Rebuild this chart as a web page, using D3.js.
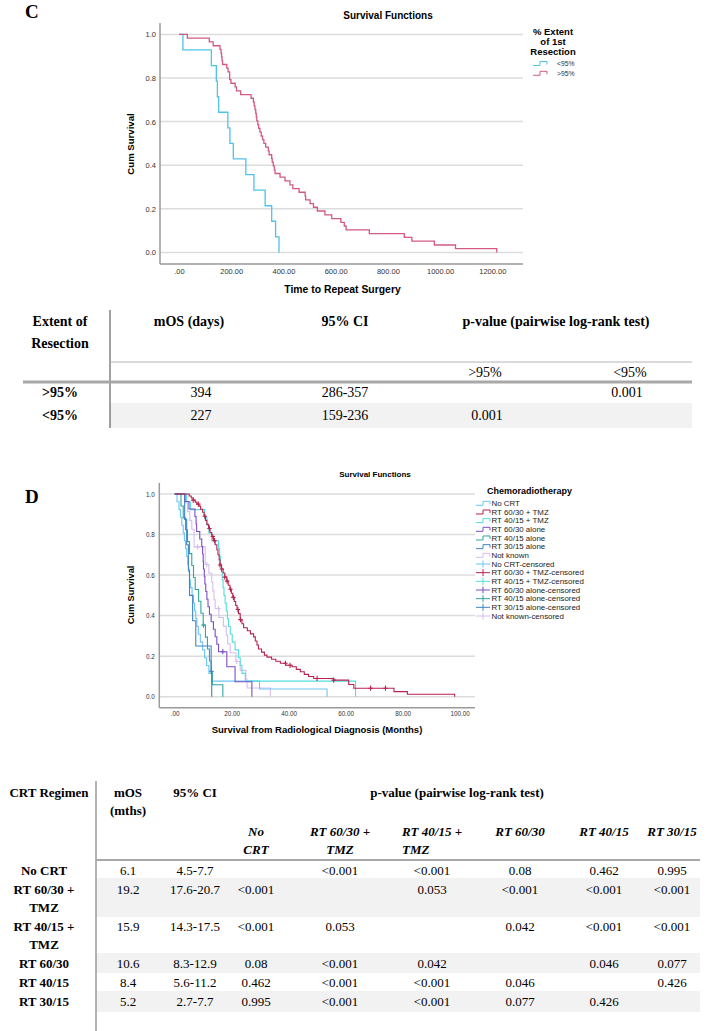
<!DOCTYPE html>
<html><head><meta charset="utf-8">
<script src="https://cdn.jsdelivr.net/npm/d3@7"></script>
<style>body{margin:0;background:#fff}</style>
</head><body><svg id="fig" width="708" height="1031"></svg>
<script>
// ================= DATA =================
// Panel C: Kaplan-Meier, time to repeat surgery (days)
const cTicksY = [0, 0.2, 0.4, 0.6, 0.8, 1.0];
const cTicksX = [0, 200, 400, 600, 800, 1000, 1200];
const cTickLabelsX = [".00", "200.00", "400.00", "600.00", "800.00", "1000.00", "1200.00"];
const cGroups = ["<95%", ">95%"];
const cTimesLt95 = [0, 15, 124, 143, 147, 152, 187, 195, 208, 256, 287, 330, 355, 370, 383];
const cSurvLt95  = [1, 0.929, 0.857, 0.786, 0.714, 0.643, 0.571, 0.5, 0.429, 0.357, 0.286, 0.214, 0.143, 0.071, 0];
const cTimesGt95 = [0,32,116,131,157,161,163,165,167,183,188,194,199,215,220,236,276,285,288,291,294,296,298,302,305,310,315,320,325,332,342,345,355,357,361,365,368,387,406,425,436,460,483,485,502,515,530,559,585,620,633,640,729,863,892,978,1059,1217];
const cSurvGt95  = [1,0.983,0.966,0.948,0.931,0.914,0.897,0.879,0.862,0.845,0.828,0.793,0.776,0.759,0.741,0.724,0.707,0.690,0.672,0.655,0.638,0.621,0.603,0.586,0.569,0.552,0.534,0.517,0.500,0.483,0.466,0.448,0.431,0.414,0.397,0.379,0.362,0.345,0.328,0.310,0.293,0.276,0.259,0.241,0.224,0.207,0.190,0.172,0.155,0.138,0.121,0.103,0.086,0.069,0.052,0.034,0.017,0];

// Panel D: Kaplan-Meier, survival from radiological diagnosis (months)
const dTicksY = [0, 0.2, 0.4, 0.6, 0.8, 1.0];
const dTicksX = [0, 20, 40, 60, 80, 100];
const dTickLabelsX = [".00", "20.00", "40.00", "60.00", "80.00", "100.00"];
const dGroups = ["No CRT", "RT 60/30 + TMZ", "RT 40/15 + TMZ", "RT 60/30 alone", "RT 40/15 alone", "RT 30/15 alone", "Not known"];
const dTimesNoCRT = [0,0.8,1.5,2,2.5,3,3.4,3.8,4.2,4.6,4.9,5.2,5.5,6.1,6.6,7,7.4,7.8,8.3,9,9.8,10.5,11.2,12,13,29.8,53.5];
const dSurvNoCRT  = [1,0.962,0.923,0.885,0.846,0.808,0.769,0.731,0.692,0.654,0.615,0.577,0.538,0.5,0.462,0.423,0.385,0.346,0.308,0.269,0.231,0.192,0.154,0.115,0.077,0.038,0];
const dTimesRT6030TMZ = [0,5.1,5.8,6.5,7.2,7.8,8.5,9.1,9.8,10.3,10.8,11.3,11.9,12.4,13.0,13.6,14.2,14.8,15.2,15.6,15.9,16.4,17.0,17.6,18.3,18.8,19.4,19.9,20.4,20.9,21.4,21.9,22.4,23.0,23.6,24.2,25.5,26.6,27.7,28.3,28.9,29.4,30.5,31.5,32.4,34.0,35.5,37.1,39.0,41.2,42.7,44.1,45.5,47.0,48.8,55.8,61.1,62.9,77.0,81.7,98.3];
const dSurvRT6030TMZ  = [1,0.99,0.98,0.97,0.96,0.95,0.94,0.925,0.91,0.89,0.87,0.85,0.83,0.81,0.79,0.77,0.75,0.725,0.70,0.675,0.65,0.63,0.61,0.59,0.57,0.55,0.53,0.51,0.49,0.47,0.45,0.43,0.41,0.38,0.36,0.34,0.325,0.31,0.295,0.275,0.255,0.235,0.22,0.205,0.195,0.185,0.175,0.165,0.155,0.148,0.135,0.123,0.11,0.10,0.09,0.082,0.06,0.042,0.025,0.012,0];
const dTimesRT4015TMZ = [0,4.2,5.5,10.5,11.3,12.0,13.0,15.4,15.8,16.1,16.4,16.7,17.0,17.3,17.7,18.1,18.5,18.9,19.5,20.2,21.2,22.4,23.0,23.6,24.8,63.5];
const dSurvRT4015TMZ  = [1,0.962,0.923,0.885,0.846,0.808,0.769,0.731,0.692,0.654,0.615,0.577,0.538,0.5,0.462,0.423,0.385,0.346,0.308,0.269,0.231,0.192,0.154,0.115,0.077,0];
const dTimesRT6030 = [0,3.6,5.0,7.1,7.5,7.7,8.8,9.5,9.8,10.0,10.1,10.4,10.6,10.9,11.3,11.7,12.2,12.8,13.6,14.2,14.8,15.4,18.3,21.2,27.1];
const dSurvRT6030  = [1,0.963,0.926,0.889,0.852,0.815,0.778,0.741,0.704,0.667,0.63,0.593,0.556,0.519,0.481,0.444,0.407,0.37,0.333,0.296,0.259,0.222,0.148,0.074,0];
const dTimesRT4015 = [0,2.2,3.0,3.8,4.5,5.2,6.0,6.6,7.2,8.4,9.2,10.0,10.8,11.5,12.2,12.8,13.2,16.9];
const dSurvRT4015  = [1,0.941,0.882,0.824,0.765,0.706,0.647,0.588,0.529,0.471,0.412,0.353,0.294,0.235,0.176,0.118,0.059,0];
const dTimesRT3015 = [0,3.5,4.2,4.8,5.2,6.3,7.4,12.8,13.0];
const dSurvRT3015  = [1,0.875,0.75,0.625,0.5,0.375,0.25,0.125,0];
const dTimesNotKnown = [0,3.6,4.5,5.3,6.0,6.8,10.7,12.0,13.0,13.4,13.8,14.2,15.5,17.1,18.1,18.6,19.5,21.5,23.0,25.0,25.4,33.6];
const dSurvNotKnown  = [1,0.957,0.913,0.870,0.826,0.739,0.652,0.609,0.565,0.522,0.478,0.435,0.391,0.348,0.304,0.261,0.217,0.174,0.130,0.087,0.043,0];
// censored observations (months)
const dCensorNoCRT = [];
const dCensorRT6030TMZ = [6.5,8.3,10.6,12.2,13.4,14.0,15.9,16.5,17.6,18.4,19.6,20.6,22.2,23.1,38.9,40.5,50.0,55.8,68.8,74.0];
const dCensorRT4015TMZ = [];
const dCensorRT6030 = [16.9];
const dCensorRT4015 = [10.1];
const dCensorRT3015 = [12.9];
const dCensorNotKnown = [8.0,11.3,15.4,21.8];

// Table C
const tCHeader = ["mOS (days)", "95% CI", "p-value (pairwise log-rank test)"];
const tCFirstHeader = ["Extent of", "Resection"];
const tCSubHeader = [">95%", "<95%"];
const tCRows = [">95%", "<95%"];
const tCmOS = ["394", "227"];
const tCCI = ["286-357", "159-236"];
const tCP = [["", "0.001"], ["0.001", ""]];

// Table D
const tDFirstHeader = "CRT Regimen";
const tDmOSHeader = ["mOS", "(mths)"];
const tDCIHeader = "95% CI";
const tDPHeader = "p-value (pairwise log-rank test)";
const tDSubHeader = [["No", "CRT"], ["RT 60/30 +", "TMZ"], ["RT 40/15 +", "TMZ"], ["RT 60/30"], ["RT 40/15"], ["RT 30/15"]];
const tDRows = [["No CRT"], ["RT 60/30 +", "TMZ"], ["RT 40/15 +", "TMZ"], ["RT 60/30"], ["RT 40/15"], ["RT 30/15"]];
const tDmOS = ["6.1", "19.2", "15.9", "10.6", "8.4", "5.2"];
const tDCI = ["4.5-7.7", "17.6-20.7", "14.3-17.5", "8.3-12.9", "5.6-11.2", "2.7-7.7"];
const tDP = [
  ["", "<0.001", "<0.001", "0.08", "0.462", "0.995"],
  ["<0.001", "", "0.053", "<0.001", "<0.001", "<0.001"],
  ["<0.001", "0.053", "", "0.042", "<0.001", "<0.001"],
  ["0.08", "<0.001", "0.042", "", "0.046", "0.077"],
  ["0.462", "<0.001", "<0.001", "0.046", "", "0.426"],
  ["0.995", "<0.001", "<0.001", "0.077", "0.426", ""]
];

// ================= DRAW =================
const svg = d3.select("#fig");
svg.append("rect").attr("width", 708).attr("height", 1031).attr("fill", "#fff");
const SANS = "'Liberation Sans', Arial, sans-serif";
const SERIF = "'Liberation Serif', 'Times New Roman', serif";

function kmPath(g, times, surv, x, y, color, w) {
  const pts = times.map((t, i) => [t, surv[i]]);
  g.append("path")
    .attr("d", d3.line().x(d => x(d[0])).y(d => y(d[1])).curve(d3.curveStepAfter)(pts))
    .attr("fill", "none").attr("stroke", color).attr("stroke-width", w);
}
function survAt(times, surv, t) {
  let s = surv[0];
  for (let i = 0; i < times.length; i++) if (times[i] <= t) s = surv[i];
  return s;
}
function censorMarks(g, times, surv, cens, x, y, color) {
  cens.forEach(t => {
    const cx = x(t), cy = y(survAt(times, surv, t));
    g.append("path").attr("d", `M${cx},${cy - 2.6}V${cy + 2.6}M${cx - 2.2},${cy}H${cx + 2.2}`)
      .attr("stroke", color).attr("stroke-width", 1.1).attr("fill", "none");
  });
}
function stepSymbol(g, x0, yc, color) {
  g.append("path").attr("d", `M${x0},${yc + 2}H${x0 + 7}V${yc - 2}H${x0 + 14}V${yc + 1}`)
    .attr("fill", "none").attr("stroke", color).attr("stroke-width", 1);
}
function crossSymbol(g, x0, yc, color) {
  g.append("path").attr("d", `M${x0},${yc}H${x0 + 14}M${x0 + 7},${yc - 3.5}V${yc + 3.5}`)
    .attr("fill", "none").attr("stroke", color).attr("stroke-width", 1);
}

// ---------- Panel C ----------
svg.append("text").attr("x", 25).attr("y", 18).text("C")
  .attr("font-family", SERIF).attr("font-weight", "bold").attr("font-size", 19);

const xC = d3.scaleLinear().domain([0, 1200]).range([179, 492.3]);
const yC = d3.scaleLinear().domain([0, 1]).range([252.4, 34.4]);
const gC = svg.append("g");
gC.selectAll("line.grid").data(cTicksY).join("line")
  .attr("x1", 160).attr("x2", 523).attr("y1", d => yC(d)).attr("y2", d => yC(d))
  .attr("stroke", "#dcdcdc").attr("stroke-width", 1.5);
gC.append("g").attr("transform", "translate(160,0)")
  .call(d3.axisLeft(yC).tickValues(cTicksY).tickFormat(d3.format(".1f")).tickSize(0).tickPadding(4))
  .call(g => g.select(".domain").remove())
  .selectAll("text").attr("font-family", SANS).attr("font-size", 7.5).attr("fill", "#333");
gC.append("g").attr("transform", "translate(0,264)")
  .call(d3.axisBottom(xC).tickValues(cTicksX).tickFormat((d, i) => cTickLabelsX[i]).tickSize(0).tickPadding(5))
  .call(g => g.select(".domain").remove())
  .selectAll("text").attr("font-family", SANS).attr("font-size", 7.5).attr("fill", "#333");
gC.append("line").attr("x1", 160).attr("x2", 160).attr("y1", 23).attr("y2", 264).attr("stroke", "#9a9a9a").attr("stroke-width", 1.5);
gC.append("line").attr("x1", 160).attr("x2", 523).attr("y1", 264).attr("y2", 264).attr("stroke", "#9a9a9a").attr("stroke-width", 1.5);

const cColors = ["#4fc3ea", "#d25a84"];
kmPath(gC, cTimesLt95, cSurvLt95, xC, yC, cColors[0], 1.3);
kmPath(gC, cTimesGt95, cSurvGt95, xC, yC, cColors[1], 1.3);

gC.append("text").attr("x", 388).attr("y", 15).attr("dy", "0.35em").attr("text-anchor", "middle")
  .attr("font-family", SANS).attr("font-weight", "bold").attr("font-size", 10).text("Survival Functions");
gC.append("text").attr("x", 342.5).attr("y", 289).attr("dy", "0.35em").attr("text-anchor", "middle")
  .attr("font-family", SANS).attr("font-weight", "bold").attr("font-size", 10.4).text("Time to Repeat Surgery");
gC.append("text").attr("transform", "translate(131,144) rotate(-90)").attr("dy", "0.35em").attr("text-anchor", "middle")
  .attr("font-family", SANS).attr("font-weight", "bold").attr("font-size", 9.6).text("Cum Survival");
["% Extent", "of 1st", "Resection"].forEach((t, i) => {
  gC.append("text").attr("x", 553).attr("y", 32 + i * 9.6).attr("dy", "0.35em").attr("text-anchor", "middle")
    .attr("font-family", SANS).attr("font-weight", "bold").attr("font-size", 9.5).text(t);
});
cGroups.forEach((gname, i) => {
  const yc = 63.5 + i * 9.8;
  stepSymbol(gC, 533, yc, cColors[i]);
  gC.append("text").attr("x", 557).attr("y", yc).attr("dy", "0.35em")
    .attr("font-family", SANS).attr("font-size", 6.8).attr("fill", "#333").text(gname);
});

// ---------- Table C ----------
const gTC = svg.append("g").attr("font-family", SERIF).attr("font-size", 14);
gTC.append("rect").attr("x", 110).attr("y", 403).attr("width", 582).attr("height", 25).attr("fill", "#f2f2f2");
gTC.append("line").attr("x1", 110).attr("x2", 110).attr("y1", 310).attr("y2", 428).attr("stroke", "#444").attr("stroke-width", 1);
gTC.append("line").attr("x1", 110).attr("x2", 692).attr("y1", 362).attr("y2", 362).attr("stroke", "#b4b4b4").attr("stroke-width", 1);
gTC.append("line").attr("x1", 23).attr("x2", 692).attr("y1", 382).attr("y2", 382).attr("stroke", "#a8a8a8").attr("stroke-width", 3);
const tcColX = [201, 345, 556];
tCFirstHeader.forEach((t, i) => gTC.append("text").attr("x", 60).attr("y", 321 + i * 21.6).attr("dy", "0.35em")
  .attr("text-anchor", "middle").attr("font-weight", "bold").text(t));
tCHeader.forEach((t, i) => gTC.append("text").attr("x", i === 0 ? 189 : tcColX[i]).attr("y", 321).attr("dy", "0.35em")
  .attr("text-anchor", "middle").attr("font-weight", "bold").text(t));
const tcPX = [485, 630];
tCSubHeader.forEach((t, i) => gTC.append("text").attr("x", tcPX[i]).attr("y", 372).attr("dy", "0.35em")
  .attr("text-anchor", "middle").text(t));
const tcRowY = [392, 415];
tCRows.forEach((r, i) => {
  const y = tcRowY[i];
  gTC.append("text").attr("x", 60).attr("y", y).attr("dy", "0.35em").attr("text-anchor", "middle").attr("font-weight", "bold").text(r);
  gTC.append("text").attr("x", tcColX[0]).attr("y", y).attr("dy", "0.35em").attr("text-anchor", "middle").text(tCmOS[i]);
  gTC.append("text").attr("x", tcColX[1]).attr("y", y).attr("dy", "0.35em").attr("text-anchor", "middle").text(tCCI[i]);
  tCP[i].forEach((p, j) => gTC.append("text").attr("x", j === 0 ? 487 : 627).attr("y", y).attr("dy", "0.35em").attr("text-anchor", "middle").text(p));
});

// ---------- Panel D ----------
svg.append("text").attr("x", 25).attr("y", 503).text("D")
  .attr("font-family", SERIF).attr("font-weight", "bold").attr("font-size", 19);
const xD = d3.scaleLinear().domain([0, 100]).range([174.7, 459.5]);
const yD = d3.scaleLinear().domain([0, 1]).range([696.7, 494]);
const gD = svg.append("g");
gD.selectAll("line.grid").data(dTicksY).join("line")
  .attr("x1", 159.3).attr("x2", 475).attr("y1", d => yD(d)).attr("y2", d => yD(d))
  .attr("stroke", "#dcdcdc").attr("stroke-width", 1.5);
gD.append("g").attr("transform", "translate(159.3,0)")
  .call(d3.axisLeft(yD).tickValues(dTicksY).tickFormat(d3.format(".1f")).tickSize(0).tickPadding(4.5))
  .call(g => g.select(".domain").remove())
  .selectAll("text").attr("font-family", SANS).attr("font-size", 6.3).attr("fill", "#333");
gD.append("g").attr("transform", "translate(0,707.7)")
  .call(d3.axisBottom(xD).tickValues(dTicksX).tickFormat((d, i) => dTickLabelsX[i]).tickSize(0).tickPadding(4))
  .call(g => g.select(".domain").remove())
  .selectAll("text").attr("font-family", SANS).attr("font-size", 6.3).attr("fill", "#333");
gD.append("line").attr("x1", 159.3).attr("x2", 159.3).attr("y1", 483).attr("y2", 707.7).attr("stroke", "#9a9a9a").attr("stroke-width", 1.5);
gD.append("line").attr("x1", 159.3).attr("x2", 475).attr("y1", 707.7).attr("y2", 707.7).attr("stroke", "#9a9a9a").attr("stroke-width", 1.5);

const dColors = ["#6cc5f2", "#b8234f", "#52dede", "#7b4fc6", "#2ea79d", "#3f84c8", "#d6bdf4"];
const dTimes = [dTimesNoCRT, dTimesRT6030TMZ, dTimesRT4015TMZ, dTimesRT6030, dTimesRT4015, dTimesRT3015, dTimesNotKnown];
const dSurv = [dSurvNoCRT, dSurvRT6030TMZ, dSurvRT4015TMZ, dSurvRT6030, dSurvRT4015, dSurvRT3015, dSurvNotKnown];
const dCens = [dCensorNoCRT, dCensorRT6030TMZ, dCensorRT4015TMZ, dCensorRT6030, dCensorRT4015, dCensorRT3015, dCensorNotKnown];
const drawOrder = [6, 0, 2, 4, 5, 3, 1];
drawOrder.forEach(i => {
  kmPath(gD, dTimes[i], dSurv[i], xD, yD, dColors[i], 1.1);
  censorMarks(gD, dTimes[i], dSurv[i], dCens[i], xD, yD, dColors[i]);
});

gD.append("text").attr("x", 375).attr("y", 474).attr("dy", "0.35em").attr("text-anchor", "middle")
  .attr("font-family", SANS).attr("font-weight", "bold").attr("font-size", 8).text("Survival Functions");
gD.append("text").attr("x", 317).attr("y", 730).attr("dy", "0.35em").attr("text-anchor", "middle")
  .attr("font-family", SANS).attr("font-weight", "bold").attr("font-size", 9.5).text("Survival from Radiological Diagnosis (Months)");
gD.append("text").attr("transform", "translate(131,595) rotate(-90)").attr("dy", "0.35em").attr("text-anchor", "middle")
  .attr("font-family", SANS).attr("font-weight", "bold").attr("font-size", 9.2).text("Cum Survival");
gD.append("text").attr("x", 487).attr("y", 491).attr("dy", "0.35em")
  .attr("font-family", SANS).attr("font-weight", "bold").attr("font-size", 9).text("Chemoradiotherapy");
const legendD = dGroups.map((gname, i) => ({ label: gname, color: dColors[i], cens: false }))
  .concat(dGroups.map((gname, i) => ({ label: gname + "-censored", color: dColors[i], cens: true })));
legendD.forEach((it, i) => {
  const yc = 503.3 + i * 8.67;
  if (it.cens) crossSymbol(gD, 476, yc, it.color); else stepSymbol(gD, 476, yc, it.color);
  gD.append("text").attr("x", 491.5).attr("y", yc).attr("dy", "0.35em")
    .attr("font-family", SANS).attr("font-size", 7.9).attr("fill", "#222").text(it.label);
});

// ---------- Table D ----------
const gTD = svg.append("g").attr("font-family", SERIF).attr("font-size", 13);
const L = 18.7;
const rowY = [870, 889, 926, 963, 982, 1001];
// gray bands
[[878, 917], [953, 973], [991, 1012]].forEach(b => gTD.append("rect").attr("x", 96).attr("y", b[0]).attr("width", 604).attr("height", b[1] - b[0]).attr("fill", "#f2f2f2"));
gTD.append("line").attr("x1", 96).attr("x2", 96).attr("y1", 781).attr("y2", 1031).attr("stroke", "#9a9a9a").attr("stroke-width", 1.5);
gTD.append("line").attr("x1", 96).attr("x2", 700).attr("y1", 860).attr("y2", 860).attr("stroke", "#a8a8a8").attr("stroke-width", 2);
gTD.append("text").attr("x", 49).attr("y", 792).attr("dy", "0.35em").attr("text-anchor", "middle").attr("font-weight", "bold").text(tDFirstHeader);
tDmOSHeader.forEach((t, i) => gTD.append("text").attr("x", 128).attr("y", 792 + i * L).attr("dy", "0.35em").attr("text-anchor", "middle").attr("font-weight", "bold").text(t));
gTD.append("text").attr("x", 195).attr("y", 792).attr("dy", "0.35em").attr("text-anchor", "middle").attr("font-weight", "bold").text(tDCIHeader);
gTD.append("text").attr("x", 457).attr("y", 792).attr("dy", "0.35em").attr("text-anchor", "middle").attr("font-weight", "bold").text(tDPHeader);
const pColX = [256, 340, 432, 520, 604, 672];
tDSubHeader.forEach((lines, j) => {
  lines.forEach((t, k) => {
    const leftAlign = (j === 2 && k === 1);
    gTD.append("text").attr("x", leftAlign ? 402 : pColX[j]).attr("y", 831 + k * L).attr("dy", "0.35em")
      .attr("text-anchor", leftAlign ? "start" : "middle")
      .attr("font-weight", "bold").attr("font-style", "italic").text(t);
  });
});
tDRows.forEach((lines, i) => {
  const y = rowY[i];
  lines.forEach((t, k) => gTD.append("text").attr("x", 44).attr("y", y + k * L).attr("dy", "0.35em").attr("text-anchor", "middle").attr("font-weight", "bold").text(t));
  gTD.append("text").attr("x", 128).attr("y", y).attr("dy", "0.35em").attr("text-anchor", "middle").text(tDmOS[i]);
  gTD.append("text").attr("x", 195).attr("y", y).attr("dy", "0.35em").attr("text-anchor", "middle").text(tDCI[i]);
  tDP[i].forEach((p, j) => gTD.append("text").attr("x", pColX[j]).attr("y", y).attr("dy", "0.35em").attr("text-anchor", "middle").text(p));
});
</script></body></html>
